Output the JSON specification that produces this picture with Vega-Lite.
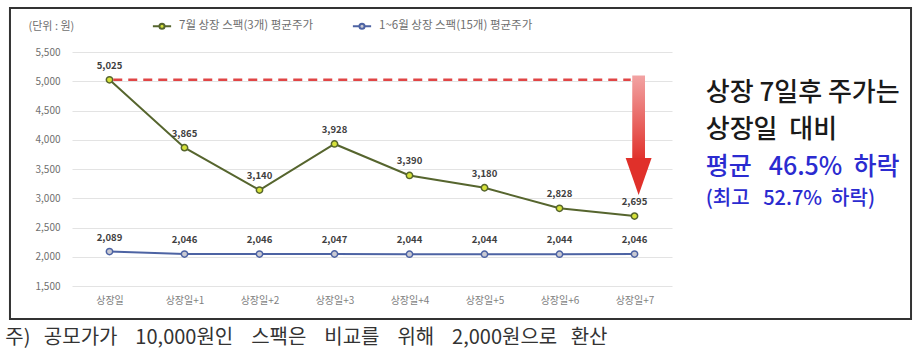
{
  "$schema": "https://vega.github.io/schema/vega-lite/v6.json",
  "autosize": {"type": "none"},
  "width": 600,
  "height": 234,
  "padding": {"left": 72, "top": 52, "right": 246, "bottom": 76},
  "background": "white",
  "config": {
    "view": {"stroke": null},
    "font": "Noto Sans CJK KR",
    "axisY": {
      "tickCount": 8, "labelExpr": "format(datum.value, ',')",
      "domain": false, "ticks": false, "labelOverlap": false,
      "gridColor": "#e3e3e3", "gridWidth": 1,
      "labelColor": "#6f6f6f", "labelFontSize": 10, "labelPadding": 12
    },
    "axisX": {
      "tickCount": 8,
      "labelExpr": "['상장일','상장일+1','상장일+2','상장일+3','상장일+4','상장일+5','상장일+6','상장일+7'][datum.value]",
      "domain": false, "ticks": false, "grid": false, "labelOverlap": false,
      "labelColor": "#7f7f7f", "labelFontSize": 10, "labelPadding": 9
    }
  },
  "data": {"values": [{}]},
  "datasets": {
    "prices": [
      {"idx": 0, "day": "상장일", "series": "7월 상장 스팩(3개) 평균주가", "price": 5025},
      {"idx": 1, "day": "상장일+1", "series": "7월 상장 스팩(3개) 평균주가", "price": 3865},
      {"idx": 2, "day": "상장일+2", "series": "7월 상장 스팩(3개) 평균주가", "price": 3140},
      {"idx": 3, "day": "상장일+3", "series": "7월 상장 스팩(3개) 평균주가", "price": 3928},
      {"idx": 4, "day": "상장일+4", "series": "7월 상장 스팩(3개) 평균주가", "price": 3390},
      {"idx": 5, "day": "상장일+5", "series": "7월 상장 스팩(3개) 평균주가", "price": 3180},
      {"idx": 6, "day": "상장일+6", "series": "7월 상장 스팩(3개) 평균주가", "price": 2828},
      {"idx": 7, "day": "상장일+7", "series": "7월 상장 스팩(3개) 평균주가", "price": 2695},
      {"idx": 0, "day": "상장일", "series": "1~6월 상장 스팩(15개) 평균주가", "price": 2089},
      {"idx": 1, "day": "상장일+1", "series": "1~6월 상장 스팩(15개) 평균주가", "price": 2046},
      {"idx": 2, "day": "상장일+2", "series": "1~6월 상장 스팩(15개) 평균주가", "price": 2046},
      {"idx": 3, "day": "상장일+3", "series": "1~6월 상장 스팩(15개) 평균주가", "price": 2047},
      {"idx": 4, "day": "상장일+4", "series": "1~6월 상장 스팩(15개) 평균주가", "price": 2044},
      {"idx": 5, "day": "상장일+5", "series": "1~6월 상장 스팩(15개) 평균주가", "price": 2044},
      {"idx": 6, "day": "상장일+6", "series": "1~6월 상장 스팩(15개) 평균주가", "price": 2044},
      {"idx": 7, "day": "상장일+7", "series": "1~6월 상장 스팩(15개) 평균주가", "price": 2046}
    ],
    "notes": [
      {"x": 7.95, "y": 4799, "text": "상장 7일후 주가는", "kind": "main"},
      {"x": 7.95, "y": 4167, "text": "상장일 \u00a0대비", "kind": "main"},
      {"x": 7.95, "y": 3534, "text": "평균 \u00a0\u00a046.5% \u00a0하락", "kind": "blue"},
      {"x": 7.95, "y": 2987, "text": "(최고 \u00a0\u00a052.7% \u00a0하락)", "kind": "small"}
    ]
  },
  "layer": [
    {
      "data": {"name": "prices"},
      "mark": {"type": "line", "strokeWidth": 2},
      "encoding": {
        "x": {
          "field": "idx", "type": "quantitative",
          "scale": {"domain": [-0.5, 7.5], "nice": false, "zero": false},
          "axis": {"title": null}
        },
        "y": {
          "field": "price", "type": "quantitative",
          "scale": {"domain": [1500, 5500], "nice": false, "zero": false},
          "axis": {"title": null}
        },
        "color": {
          "field": "series", "type": "nominal",
          "scale": {
            "domain": ["7월 상장 스팩(3개) 평균주가", "1~6월 상장 스팩(15개) 평균주가"],
            "range": ["#56652e", "#4d63a3"]
          },
          "legend": {
            "orient": "none", "legendX": 83, "legendY": -33,
            "direction": "horizontal", "title": null,
            "symbolType": "M-1.6,0 L-0.45,0 M0.45,0 L1.6,0 M0.45,0 A0.45,0.45 0 1 1 -0.45,0 A0.45,0.45 0 1 1 0.45,0",
            "symbolSize": 130, "symbolStrokeWidth": 2,
            "labelFontSize": 11.5, "labelColor": "#6f6f6f", "labelOffset": 10,
            "columnPadding": 34
          }
        }
      }
    },
    {
      "mark": {"type": "rect", "fill": "transparent", "stroke": "#333333", "strokeWidth": 2},
      "encoding": {
        "x": {"datum": -1.327, "type": "quantitative"},
        "x2": {"datum": 10.687},
        "y": {"datum": 6252, "type": "quantitative"},
        "y2": {"datum": 936}
      }
    },
    {
      "data": {"name": "prices"},
      "mark": {"type": "point", "filled": false, "size": 40, "strokeWidth": 1.5, "opacity": 1},
      "encoding": {
        "x": {"field": "idx", "type": "quantitative"},
        "y": {"field": "price", "type": "quantitative"},
        "color": {"field": "series", "type": "nominal"},
        "fill": {
          "field": "series", "type": "nominal",
          "scale": {
            "domain": ["7월 상장 스팩(3개) 평균주가", "1~6월 상장 스팩(15개) 평균주가"],
            "range": ["#d6e23a", "#c9c9d2"]
          },
          "legend": null
        }
      }
    },
    {
      "data": {"name": "prices"},
      "mark": {"type": "text", "dy": -14, "fontSize": 9.5, "fontWeight": "bold", "color": "#404040"},
      "encoding": {
        "x": {"field": "idx", "type": "quantitative"},
        "y": {"field": "price", "type": "quantitative"},
        "text": {"field": "price", "type": "quantitative", "format": ","}
      }
    },
    {
      "mark": {"type": "rule", "color": "#e04545", "strokeWidth": 2.5, "strokeDash": [9, 6]},
      "encoding": {
        "x": {"datum": 0.05, "type": "quantitative"},
        "x2": {"datum": 6.95},
        "y": {"datum": 5025, "type": "quantitative"}
      }
    },
    {
      "mark": {
        "type": "rect",
        "fill": {
          "gradient": "linear", "x1": 0, "y1": 0, "x2": 0, "y2": 1,
          "stops": [
            {"offset": 0, "color": "#f2a3a3"},
            {"offset": 1, "color": "#e0302a"}
          ]
        }
      },
      "encoding": {
        "x": {"datum": 6.97, "type": "quantitative"},
        "x2": {"datum": 7.14},
        "y": {"datum": 5100, "type": "quantitative"},
        "y2": {"datum": 3640}
      }
    },
    {
      "mark": {
        "type": "point", "filled": true, "opacity": 1,
        "shape": "M-0.7,-1 L0.7,-1 L0,1 Z",
        "size": 1369, "color": "#e0302a"
      },
      "encoding": {
        "x": {"datum": 7.055, "type": "quantitative"},
        "y": {"datum": 3372, "type": "quantitative"}
      }
    },
    {
      "data": {"name": "notes"},
      "transform": [{"filter": "datum.kind === 'main'"}],
      "mark": {"type": "text", "align": "left", "baseline": "middle", "fontWeight": 500, "fontSize": 26, "color": "#1a1a1a"},
      "encoding": {
        "x": {"field": "x", "type": "quantitative"},
        "y": {"field": "y", "type": "quantitative"},
        "text": {"field": "text"}
      }
    },
    {
      "data": {"name": "notes"},
      "transform": [{"filter": "datum.kind === 'blue'"}],
      "mark": {"type": "text", "align": "left", "baseline": "middle", "fontWeight": 500, "fontSize": 25, "color": "#2b2bd0"},
      "encoding": {
        "x": {"field": "x", "type": "quantitative"},
        "y": {"field": "y", "type": "quantitative"},
        "text": {"field": "text"}
      }
    },
    {
      "data": {"name": "notes"},
      "transform": [{"filter": "datum.kind === 'small'"}],
      "mark": {"type": "text", "align": "left", "baseline": "middle", "fontWeight": 500, "fontSize": 20, "color": "#2b2bd0"},
      "encoding": {
        "x": {"field": "x", "type": "quantitative"},
        "y": {"field": "y", "type": "quantitative"},
        "text": {"field": "text"}
      }
    },
    {
      "mark": {"type": "text", "align": "left", "baseline": "middle", "fontSize": 11, "color": "#6f6f6f"},
      "encoding": {
        "x": {"datum": -1.08, "type": "quantitative"},
        "y": {"datum": 5930, "type": "quantitative"},
        "text": {"value": "(단위 : 원)"}
      }
    },
    {
      "mark": {"type": "text", "align": "left", "baseline": "middle", "fontSize": 20, "color": "#333333"},
      "encoding": {
        "x": {"datum": -1.39, "type": "quantitative"},
        "y": {"datum": 611, "type": "quantitative"},
        "text": {"value": "주) \u00a0\u00a0공모가가 \u00a0\u00a0\u00a010,000원인 \u00a0\u00a0\u00a0스팩은 \u00a0\u00a0\u00a0비교를 \u00a0\u00a0\u00a0위해 \u00a0\u00a0\u00a02,000원으로 \u00a0\u00a0환산"}
      }
    }
  ]
}
